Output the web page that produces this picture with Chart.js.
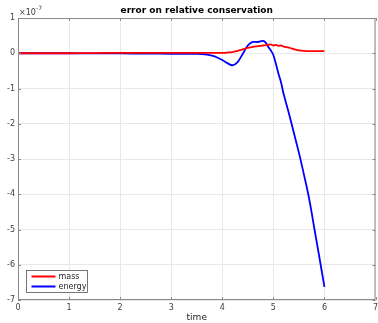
<!DOCTYPE html>
<html><head><meta charset="utf-8">
<script src="https://cdn.jsdelivr.net/npm/chart.js@4"></script>
<style>html,body{margin:0;padding:0;background:#fff;}#c{display:block;}</style>
</head><body>
<div style="width:378px;height:323px;"><canvas id="c" width="378" height="323"></canvas></div>
<script>
const titleText = 'error on relative conservation';
const xLabel = 'time';
const exponentLabel = '-7';
const time   = [0,0.5,1,1.5,2,2.5,3,3.5,3.7,3.8,3.9,4.0,4.1,4.2,4.3,4.4,4.5,4.6,4.7,4.8,4.85,4.9,4.95,5.0,5.05,5.1,5.15,5.2,5.3,5.4,5.5,5.6,5.7,5.8,5.9,6.0];
const mass   = [0,0,0,0.005,0.01,0.008,0.008,0.008,0.008,0.008,0.01,0.012,0.02,0.035,0.07,0.11,0.15,0.18,0.2,0.22,0.23,0.24,0.25,0.22,0.24,0.21,0.22,0.19,0.16,0.12,0.08,0.065,0.063,0.062,0.06,0.058];
const energy = [0,0,0,-0.003,-0.005,-0.01,-0.015,-0.02,-0.04,-0.07,-0.12,-0.19,-0.28,-0.34,-0.25,-0.02,0.22,0.32,0.32,0.35,0.3,0.18,0.08,-0.05,-0.3,-0.58,-0.82,-1.15,-1.68,-2.25,-2.82,-3.45,-4.12,-4.95,-5.78,-6.63];
const seriesNames = ['mass','energy'];
const xTicks = [0,1,2,3,4,5,6,7];
const yTicks = [-7,-6,-5,-4,-3,-2,-1,0,1];

const FONT = 'DejaVu Sans, Liberation Sans, sans-serif';
const toXY = arr => time.map((t,i)=>({x:t,y:arr[i]}));

const decor = {
  id:'decor',
  afterDraw(chart){
    const {ctx, chartArea:a} = chart;
    ctx.save();
    ctx.strokeStyle = '#8a8a8a';
    ctx.lineWidth = 1;
    ctx.strokeRect(a.left+0.5, a.top+0.5, a.right-a.left-1, a.bottom-a.top-1);
    const xs = chart.scales.x, ys = chart.scales.y;
    ctx.beginPath();
    xTicks.forEach(v=>{const px=Math.round(xs.getPixelForValue(v))+0.5;
      ctx.moveTo(px,a.bottom); ctx.lineTo(px,a.bottom-3);
      ctx.moveTo(px,a.top); ctx.lineTo(px,a.top+3);});
    yTicks.forEach(v=>{const py=Math.round(ys.getPixelForValue(v))+0.5;
      ctx.moveTo(a.left,py); ctx.lineTo(a.left+3,py);
      ctx.moveTo(a.right,py); ctx.lineTo(a.right-3,py);});
    ctx.stroke();
    ctx.fillStyle = '#000';
    ctx.font = 'bold 9px ' + FONT;
    ctx.textAlign = 'center'; ctx.textBaseline='middle';
    ctx.fillText(titleText, (a.left+a.right)/2, 11);
    ctx.fillStyle = '#404040';
    ctx.font = '8px ' + FONT;
    ctx.textAlign = 'left'; ctx.textBaseline='alphabetic';
    ctx.fillText('\u00d710', a.left+1, a.top-3);
    ctx.font = '6px ' + FONT;
    ctx.fillText(exponentLabel, a.left+18, a.top-8);
    ctx.fillStyle = '#262626';
    ctx.font = '9px ' + FONT;
    ctx.textAlign = 'center'; ctx.textBaseline='middle';
    ctx.fillText(xLabel, (a.left+a.right)/2, 318);
    const lx = a.left+8.5, ly = 270.5, lw = 61, lh = 22;
    ctx.fillStyle = '#fff';
    ctx.fillRect(lx, ly, lw, lh);
    ctx.strokeStyle = '#555'; ctx.lineWidth = 0.8;
    ctx.strokeRect(lx, ly, lw, lh);
    ctx.font = '8px ' + FONT; ctx.textAlign='left'; ctx.textBaseline='middle';
    chart.data.datasets.forEach((d,i)=>{
      const yy = ly + 6 + i*10;
      ctx.strokeStyle = d.borderColor; ctx.lineWidth = 2;
      ctx.beginPath(); ctx.moveTo(lx+5, yy); ctx.lineTo(lx+29, yy); ctx.stroke();
      ctx.fillStyle = '#262626';
      ctx.fillText(d.label, lx+32, yy);
    });
    ctx.restore();
  }
};

new Chart(document.getElementById('c'), {
  type:'line',
  data:{datasets:[
    {label:seriesNames[0], data:toXY(mass), borderColor:'#ff0000', borderWidth:1.8, pointRadius:0, tension:0.35, fill:false},
    {label:seriesNames[1], data:toXY(energy), borderColor:'#0000ff', borderWidth:1.8, pointRadius:0, tension:0.35, fill:false}
  ]},
  options:{
    responsive:false, animation:false, devicePixelRatio:1,
    layout:{padding:{top:18,right:2.5,left:0,bottom:0}},
    plugins:{legend:{display:false}, title:{display:false}, tooltip:{enabled:false}},
    scales:{
      x:{type:'linear', min:0, max:7,
        afterBuildTicks(s){s.ticks = xTicks.map(v=>({value:v}));},
        afterFit(s){s.height = 23; s.paddingRight = 0;},
        grid:{color:'#e8e8e8', drawTicks:false, lineWidth:1},
        border:{display:false},
        ticks:{font:{family:FONT,size:8}, color:'#404040', padding:3, maxRotation:0}
      },
      y:{type:'linear', min:-7, max:1,
        afterBuildTicks(s){s.ticks = yTicks.map(v=>({value:v}));},
        afterFit(s){s.width = 18;},
        grid:{color:'#e8e8e8', drawTicks:false, lineWidth:1},
        border:{display:false},
        ticks:{font:{family:FONT,size:8}, color:'#404040', padding:3}
      }
    }
  },
  plugins:[decor]
});
</script>
</body></html>
